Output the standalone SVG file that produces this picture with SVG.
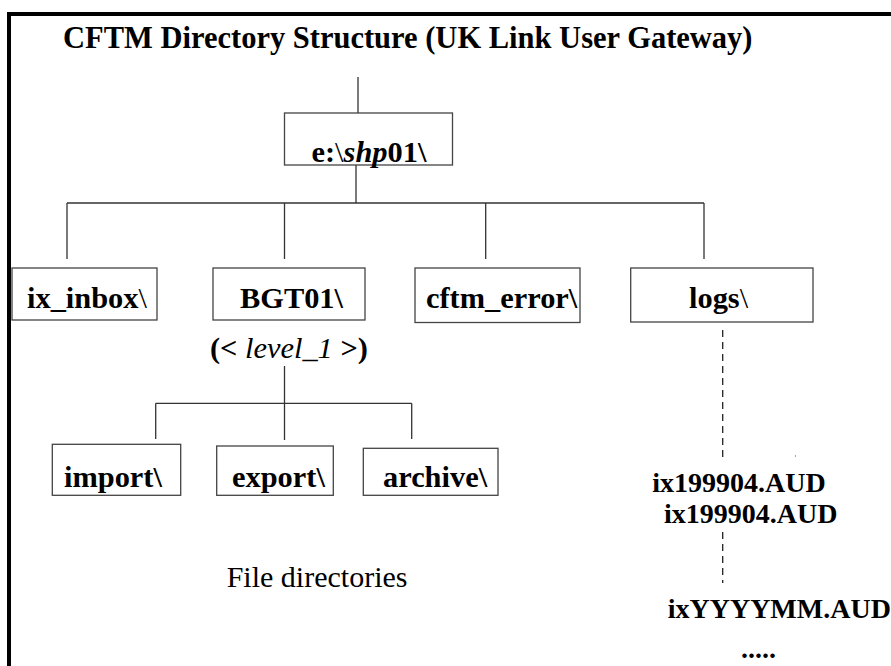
<svg xmlns="http://www.w3.org/2000/svg" width="891" height="666" viewBox="0 0 891 666">
  <style>
    text { font-family: "Liberation Serif", Tinos, "Times New Roman", Times, "DejaVu Serif", serif; fill: #000; }
    .b { font-weight: bold; }
    .n { font-weight: normal; }
    .i { font-style: italic; }
    .lbl { font-size: 30.4px; font-weight: bold; }
    .aud { font-size: 28px; font-weight: bold; }
    .box { fill: #fff; stroke: #444; stroke-width: 1.3; }
    .link { stroke: #333; stroke-width: 1.3; fill: none; }
    .dash { stroke: #222; stroke-width: 1.3; fill: none; stroke-dasharray: 7 5; }
  </style>
  <rect width="891" height="666" fill="#fff"/>
  <!-- outer frame (right and bottom edges run off the page) -->
  <path d="M9 700 V14 H900" fill="none" stroke="#000" stroke-width="4"/>

  <text x="63" y="48" class="b" font-size="30.5">CFTM Directory Structure (UK Link User Gateway)</text>

  <g id="connectors">
    <line class="link" x1="358" y1="77" x2="358" y2="113"/>
    <line class="link" x1="356" y1="165" x2="356" y2="203"/>
    <line class="link" x1="67" y1="203" x2="704" y2="203"/>
    <line class="link" x1="67" y1="203" x2="67" y2="259"/>
    <line class="link" x1="284.5" y1="203" x2="284.5" y2="259"/>
    <line class="link" x1="485.7" y1="203" x2="485.7" y2="259"/>
    <line class="link" x1="704" y1="203" x2="704" y2="259"/>
    <line class="link" x1="284.5" y1="366" x2="284.5" y2="440"/>
    <line class="link" x1="155.7" y1="403.3" x2="411.7" y2="403.3"/>
    <line class="link" x1="155.7" y1="403.3" x2="155.7" y2="439"/>
    <line class="link" x1="411.7" y1="403.3" x2="411.7" y2="439"/>
    <line class="dash" x1="722.7" y1="330" x2="722.7" y2="457"/>
    <line class="dash" x1="722.7" y1="532" x2="722.7" y2="583"/>
    <rect x="795" y="455.5" width="1" height="1" fill="#444"/>
  </g>

  <g id="root">
    <rect class="box" x="284.5" y="113" width="168" height="52"/>
    <text x="311.5" y="162" class="lbl">e:<tspan class="n">\</tspan><tspan class="i">shp</tspan>01\</text>
  </g>

  <g id="ix_inbox">
    <rect class="box" x="12" y="268" width="145" height="52"/>
    <text x="27" y="308" class="lbl">ix_inbox<tspan class="n">\</tspan></text>
  </g>

  <g id="bgt01">
    <rect class="box" x="213" y="268" width="152" height="52"/>
    <text x="240" y="308" class="lbl">BGT01\</text>
    <text x="210" y="358" font-size="30.4"><tspan class="b">(&lt;</tspan> <tspan class="i">level_1</tspan> <tspan class="b">&gt;)</tspan></text>
  </g>

  <g id="cftm_error">
    <rect class="box" x="415" y="268" width="165" height="54.5"/>
    <text x="426" y="308" class="lbl">cftm_error\</text>
  </g>

  <g id="logs">
    <rect class="box" x="630.7" y="268" width="182.3" height="54"/>
    <text x="689" y="308" class="lbl">logs<tspan class="n">\</tspan></text>
  </g>

  <g id="import">
    <rect class="box" x="52.3" y="444.3" width="128.4" height="51"/>
    <text x="64" y="486.5" class="lbl">import\</text>
  </g>

  <g id="export">
    <rect class="box" x="216.7" y="446" width="116.6" height="49.3"/>
    <text x="232" y="486.5" class="lbl">export\</text>
  </g>

  <g id="archive">
    <rect class="box" x="363.3" y="448.3" width="134.7" height="47"/>
    <text x="383" y="486.5" class="lbl">archive\</text>
  </g>

  <text x="226.7" y="586.5" font-size="30">File directories</text>

  <g id="log_files">
    <text x="652.3" y="491.5" class="aud">ix199904.AUD</text>
    <text x="664" y="523.3" class="aud">ix199904.AUD</text>
    <text x="667.7" y="618.3" class="aud">ixYYYYMM.AUD</text>
    <text x="741" y="658.3" class="aud">.....</text>
  </g>
</svg>
